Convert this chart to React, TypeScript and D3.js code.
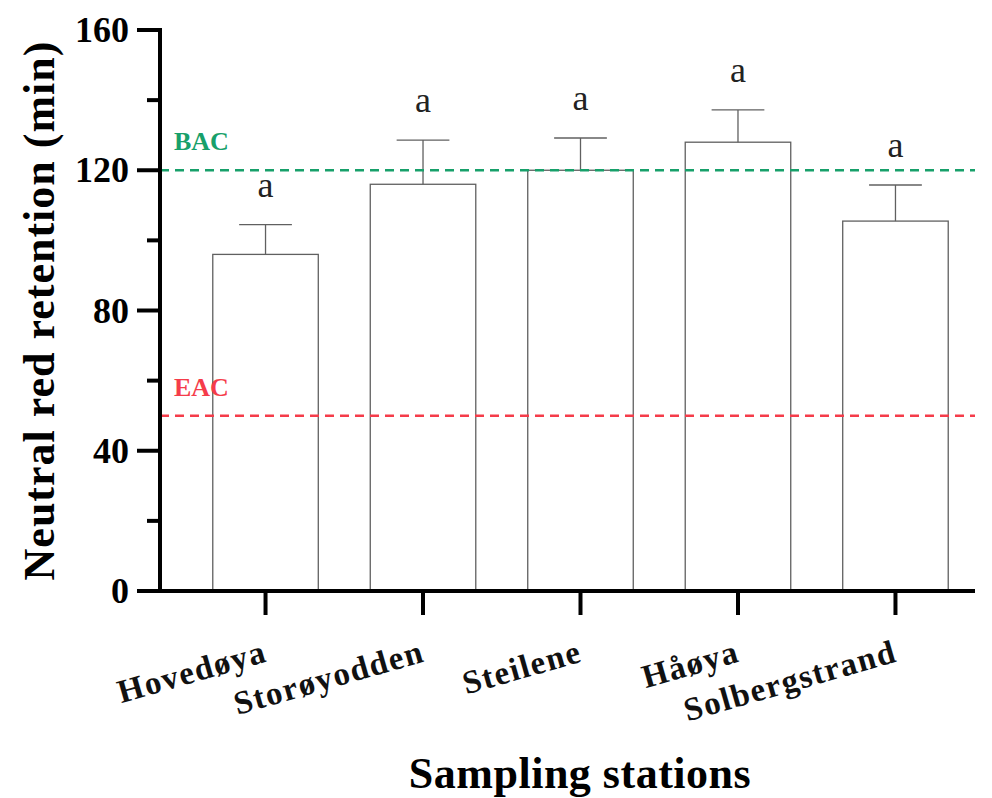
import React, { useEffect, useRef } from "react"
import * as d3 from "d3"

const stations = ["Hovedøya", "Storøyodden", "Steilene", "Håøya", "Solbergstrand"]
const means = [96, 116, 120, 128, 105.5]
const sds = [8.5, 12.6, 9.2, 9.2, 10.3]
const letters = ["a", "a", "a", "a", "a"]
const majorTicks = [0, 40, 80, 120, 160]
const minorTicks = [20, 60, 100, 140]
const thresholds = [
  { name: "BAC", value: 120, color: "#17a06a" },
  { name: "EAC", value: 50, color: "#f53c4a" },
]

const W = 992
const H = 798
const FONT = "'Liberation Serif', 'DejaVu Serif', serif"

export default function App() {
  const ref = useRef<SVGSVGElement>(null)

  useEffect(() => {
    const svg = d3.select(ref.current)
    svg.selectAll("*").remove()

    const axisLeft = 160,
      axisRight = 975,
      top = 30,
      bottom = 591

    const y = d3.scaleLinear().domain([0, 160]).range([bottom, top])
    const x = d3
      .scaleBand<string>()
      .domain(stations)
      .range([axisLeft + 26, axisRight])
      .paddingInner(0.33)
      .paddingOuter(0.17)

    const g = svg.append("g")

    // bars
    g.selectAll("rect.bar")
      .data(stations)
      .join("rect")
      .attr("class", "bar")
      .attr("x", (d) => x(d)!)
      .attr("width", x.bandwidth())
      .attr("y", (d, i) => y(means[i]))
      .attr("height", (d, i) => bottom - y(means[i]))
      .attr("fill", "#fff")
      .attr("stroke", "#606060")
      .attr("stroke-width", 1.3)

    // error bars (upper only)
    const cx = (d: string) => x(d)! + x.bandwidth() / 2
    g.selectAll("line.err")
      .data(stations)
      .join("line")
      .attr("class", "err")
      .attr("x1", cx)
      .attr("x2", cx)
      .attr("y1", (d, i) => y(means[i]))
      .attr("y2", (d, i) => y(means[i] + sds[i]))
      .attr("stroke", "#606060")
      .attr("stroke-width", 1.3)
    g.selectAll("line.cap")
      .data(stations)
      .join("line")
      .attr("class", "cap")
      .attr("x1", (d) => cx(d) - x.bandwidth() / 4)
      .attr("x2", (d) => cx(d) + x.bandwidth() / 4)
      .attr("y1", (d, i) => y(means[i] + sds[i]))
      .attr("y2", (d, i) => y(means[i] + sds[i]))
      .attr("stroke", "#606060")
      .attr("stroke-width", 1.3)

    // significance letters
    g.selectAll("text.sig")
      .data(stations)
      .join("text")
      .attr("class", "sig")
      .attr("x", cx)
      .attr("y", (d, i) => y(means[i] + sds[i]) - 28)
      .attr("text-anchor", "middle")
      .attr("font-family", FONT)
      .attr("font-size", 36)
      .attr("fill", "#222")
      .text((d, i) => letters[i])

    // threshold lines
    thresholds.forEach((t) => {
      g.append("line")
        .attr("x1", axisLeft)
        .attr("x2", axisRight)
        .attr("y1", y(t.value))
        .attr("y2", y(t.value))
        .attr("stroke", t.color)
        .attr("stroke-width", 2.5)
        .attr("stroke-dasharray", "9,6")
      g.append("text")
        .attr("x", 174)
        .attr("y", y(t.value) - 20)
        .attr("font-family", FONT)
        .attr("font-weight", "bold")
        .attr("font-size", 26)
        .attr("fill", t.color)
        .text(t.name)
    })

    // y axis
    g.append("line")
      .attr("x1", axisLeft)
      .attr("x2", axisLeft)
      .attr("y1", top - 2)
      .attr("y2", bottom + 2)
      .attr("stroke", "#000")
      .attr("stroke-width", 4)
    g.selectAll("line.ymaj")
      .data(majorTicks)
      .join("line")
      .attr("class", "ymaj")
      .attr("x1", axisLeft - 23)
      .attr("x2", axisLeft)
      .attr("y1", (d) => y(d))
      .attr("y2", (d) => y(d))
      .attr("stroke", "#000")
      .attr("stroke-width", 4)
    g.selectAll("line.ymin")
      .data(minorTicks)
      .join("line")
      .attr("class", "ymin")
      .attr("x1", axisLeft - 13)
      .attr("x2", axisLeft)
      .attr("y1", (d) => y(d))
      .attr("y2", (d) => y(d))
      .attr("stroke", "#000")
      .attr("stroke-width", 4)
    g.selectAll("text.ylab")
      .data(majorTicks)
      .join("text")
      .attr("class", "ylab")
      .attr("x", 129)
      .attr("y", (d) => y(d) + 12)
      .attr("text-anchor", "end")
      .attr("font-family", FONT)
      .attr("font-weight", "bold")
      .attr("font-size", 36)
      .attr("fill", "#000")
      .text((d) => d)

    // x axis
    g.append("line")
      .attr("x1", axisLeft - 23)
      .attr("x2", axisRight)
      .attr("y1", bottom)
      .attr("y2", bottom)
      .attr("stroke", "#000")
      .attr("stroke-width", 4)
    g.selectAll("line.xtick")
      .data(stations)
      .join("line")
      .attr("class", "xtick")
      .attr("x1", cx)
      .attr("x2", cx)
      .attr("y1", bottom)
      .attr("y2", bottom + 24)
      .attr("stroke", "#000")
      .attr("stroke-width", 4)
    g.selectAll("text.xlab")
      .data(stations)
      .join("text")
      .attr("class", "xlab")
      .attr("transform", (d) => `translate(${cx(d) + 3},${bottom + 70}) rotate(-16)`)
      .attr("text-anchor", "end")
      .attr("font-family", FONT)
      .attr("font-weight", "bold")
      .attr("font-size", 33)
      .attr("letter-spacing", 1.5)
      .attr("fill", "#111")
      .text((d) => d)

    // axis titles
    g.append("text")
      .attr("transform", `translate(54,${(top + bottom) / 2}) rotate(-90)`)
      .attr("text-anchor", "middle")
      .attr("font-family", FONT)
      .attr("font-weight", "bold")
      .attr("font-size", 44)
      .attr("letter-spacing", 1)
      .attr("fill", "#000")
      .text("Neutral red retention (min)")
    g.append("text")
      .attr("x", 580)
      .attr("y", 788)
      .attr("text-anchor", "middle")
      .attr("font-family", FONT)
      .attr("font-weight", "bold")
      .attr("font-size", 44)
      .attr("letter-spacing", 0.5)
      .attr("fill", "#000")
      .text("Sampling stations")
  }, [])

  return (
    <div style={{ position: "absolute", left: 0, top: 0 }}>
      <svg ref={ref} width={W} height={H} style={{ display: "block", background: "#fff" }} />
    </div>
  )
}
